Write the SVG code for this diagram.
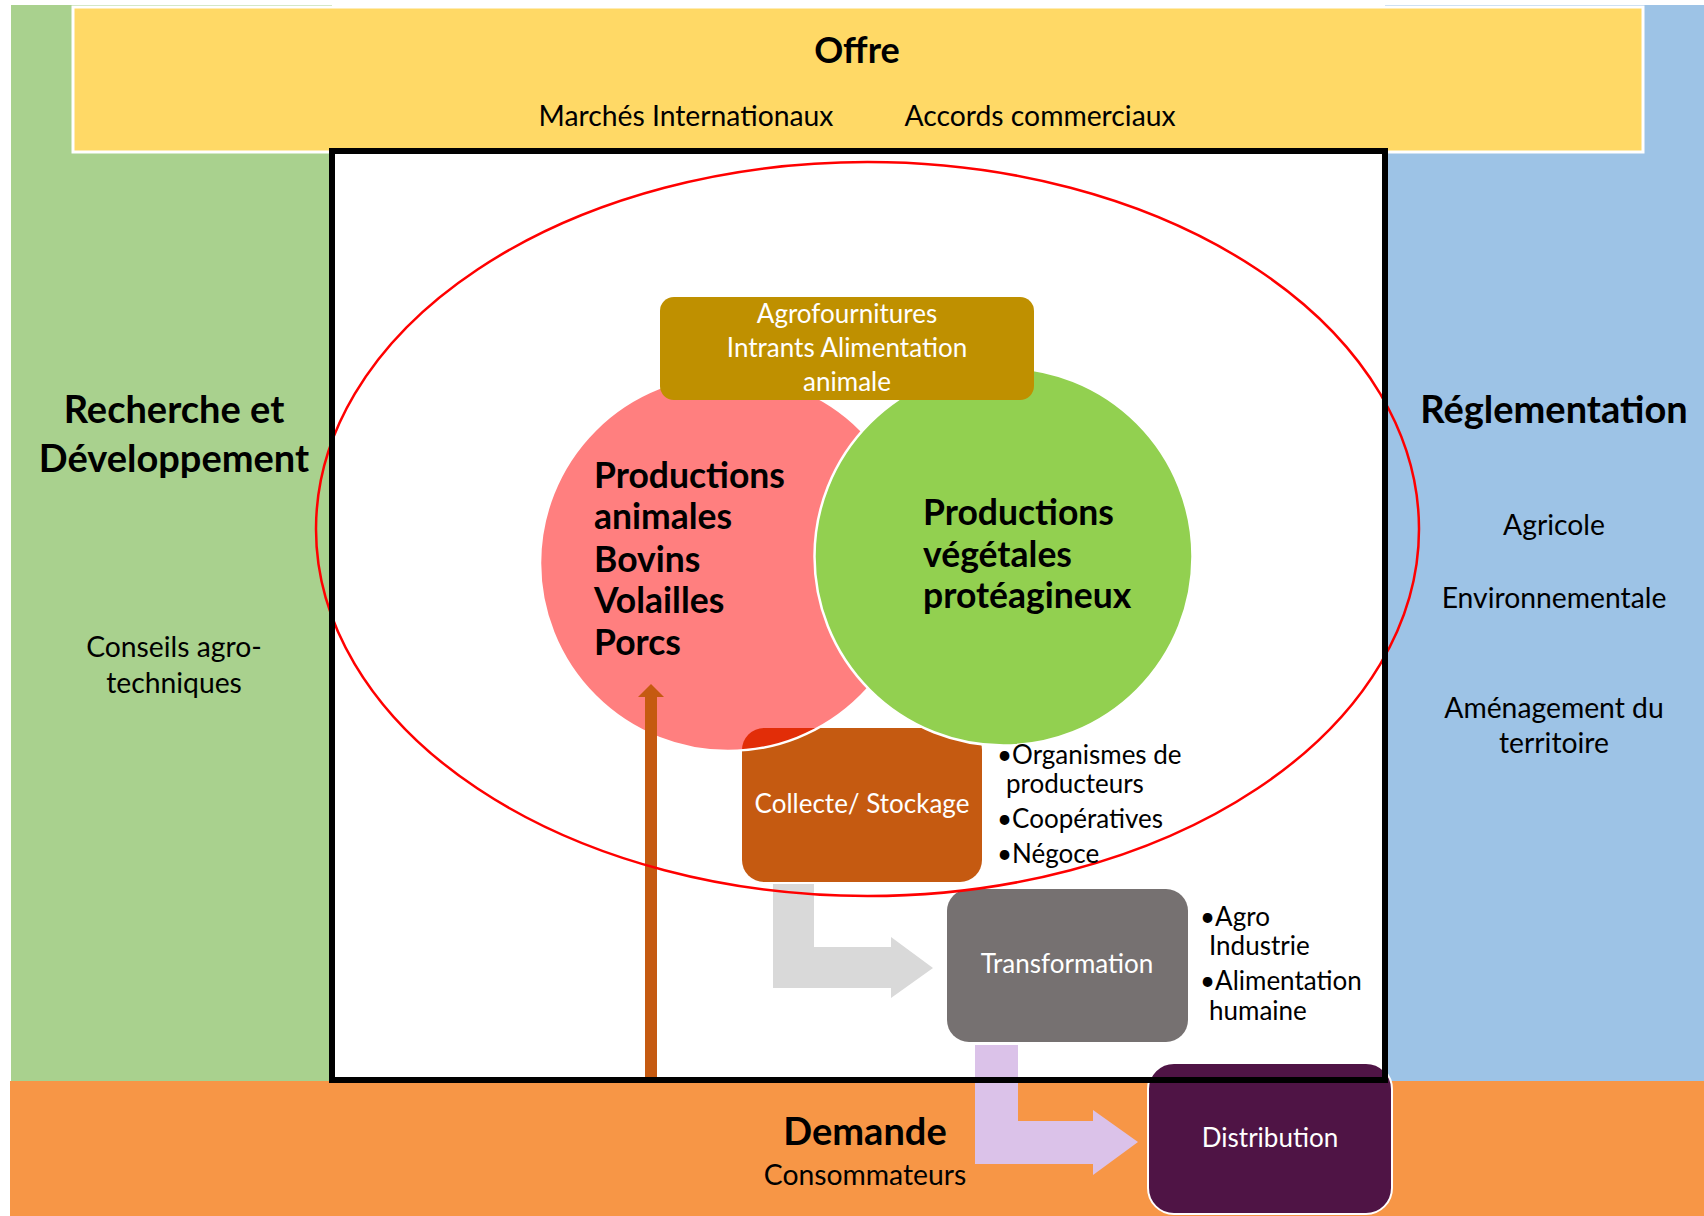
<svg xmlns="http://www.w3.org/2000/svg" width="1704" height="1216" viewBox="0 0 1704 1216">
<style>
text{font-family:Lato,"Liberation Sans",sans-serif;fill:#000}
.h{font-size:38px;font-weight:bold}
.p{font-size:35.5px;font-weight:bold}
.m{font-size:28.3px}
.s{font-size:26px}
.w{fill:#fff}
.c{text-anchor:middle}
</style>
<rect width="1704" height="1216" fill="#fff"/>
<g id="panels">
<rect id="rd-panel" x="11" y="5" width="321" height="1076" fill="#A9D18E"/>
<rect id="reg-panel" x="1385" y="5" width="319" height="1076" fill="#9DC3E6"/>
<rect id="offre-panel" x="73" y="7" width="1570" height="145" fill="#FFD966" stroke="#fff" stroke-width="3"/>
<rect id="demande-panel" x="10" y="1081" width="1694" height="135" fill="#F79646"/>
<rect id="core-bg" x="332" y="151" width="1053" height="929" fill="#fff"/>
</g>
<g id="collecte">
<rect x="742" y="728" width="240" height="154" rx="22" fill="#C55A11"/>
</g>
<g id="prod-animales">
<circle cx="728" cy="563" r="188" fill="#FF0000" fill-opacity="0.5" stroke="#fff" stroke-width="2.5"/>
</g>
<g id="prod-vegetales">
<circle cx="1003.5" cy="556.5" r="189" fill="#92D050" stroke="#fff" stroke-width="2.5"/>
</g>
<g id="agro">
<rect x="660" y="297" width="374" height="103" rx="14" fill="#BF9000"/>
</g>
<g id="connectors">
<rect x="645" y="696" width="12" height="384" fill="#C55A11"/>
<polygon points="638,697 651,684 664,697" fill="#C55A11"/>
<polygon points="773,884 814,884 814,947 891,947 891,937 933,968 891,998 891,988 773,988" fill="#D9D9D9"/>
<polygon points="975,1045 1018,1045 1018,1121 1093,1121 1093,1110 1138,1142 1093,1175 1093,1164 975,1164" fill="#DBC2E9"/>
</g>
<g id="transformation">
<rect x="947" y="889" width="241" height="153" rx="22" fill="#767171"/>
</g>
<g id="distribution">
<rect x="1148" y="1063" width="244" height="151" rx="26" fill="#4F1445" stroke="#fff" stroke-width="2"/>
</g>
<g id="filiere">
<ellipse cx="867.5" cy="529" rx="551.5" ry="367" fill="none" stroke="#FF0000" stroke-width="2.5"/>
<rect x="332" y="151" width="1053" height="929" fill="none" stroke="#000" stroke-width="6"/>
</g>
<g id="labels">
<text class="h c" x="857" y="63" style="font-size:36px">Offre</text>
<text class="m c" x="686" y="126">Marchés Internationaux</text>
<text class="m c" x="1040" y="126">Accords commerciaux</text>
<text class="h c" x="174" y="423">Recherche et</text>
<text class="h c" x="174" y="472">Développement</text>
<text class="m c" x="174" y="657">Conseils agro-</text>
<text class="m c" x="174" y="693">techniques</text>
<text class="h c" x="1554" y="423">Réglementation</text>
<text class="m c" x="1554" y="535">Agricole</text>
<text class="m c" x="1554" y="608">Environnementale</text>
<text class="m c" x="1554" y="718">Aménagement du</text>
<text class="m c" x="1554" y="753">territoire</text>
<text class="s c w" x="847" y="323">Agrofournitures</text>
<text class="s c w" x="847" y="357">Intrants Alimentation</text>
<text class="s c w" x="847" y="391">animale</text>
<text class="p" x="594" y="488">Productions</text>
<text class="p" x="594" y="529">animales</text>
<text class="p" x="594" y="572">Bovins</text>
<text class="p" x="594" y="613">Volailles</text>
<text class="p" x="594" y="655">Porcs</text>
<text class="p" x="923" y="525">Productions</text>
<text class="p" x="923" y="567">végétales</text>
<text class="p" x="923" y="608">protéagineux</text>
<text class="s c w" x="862" y="813">Collecte/ Stockage</text>
<text class="s" x="997" y="764">•Organismes de</text>
<text class="s" x="1006" y="793">producteurs</text>
<text class="s" x="997" y="828">•Coopératives</text>
<text class="s" x="997" y="863">•Négoce</text>
<text class="s c w" x="1067" y="973">Transformation</text>
<text class="s" x="1200" y="926">•Agro</text>
<text class="s" x="1209" y="955">Industrie</text>
<text class="s" x="1200" y="990">•Alimentation</text>
<text class="s" x="1209" y="1020">humaine</text>
<text class="s c w" x="1270" y="1147">Distribution</text>
<text class="h c" x="865" y="1145">Demande</text>
<text class="m c" x="865" y="1185">Consommateurs</text>
</g>
</svg>
